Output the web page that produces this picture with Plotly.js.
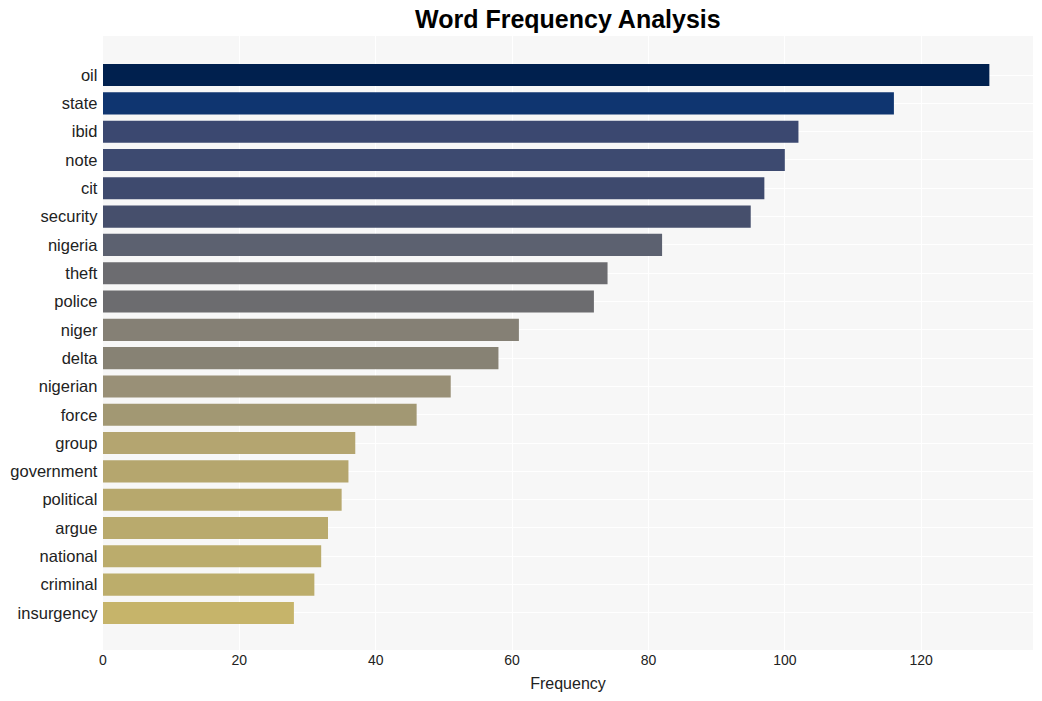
<!DOCTYPE html>
<html><head><meta charset="utf-8">
<script src="https://cdn.plot.ly/plotly-3.0.1.min.js"></script>
<style>html,body{margin:0;padding:0;background:#fff;}</style>
</head><body>
<div id="chart" style="width:1042px;height:701px;"></div>
<script>
const words = ["oil","state","ibid","note","cit","security","nigeria","theft","police","niger","delta","nigerian","force","group","government","political","argue","national","criminal","insurgency"];
const frequencies = [130,116,102,100,97,95,82,74,72,61,58,51,46,37,36,35,33,32,31,28];
const barColors = ["#00204e","#0f3570","#3b4870","#3d4a70","#3e4a6e","#464f6c","#5c6170","#6c6c70","#6c6c6f","#858075","#878274","#999077","#a29873","#b4a570","#b5a66e","#b7a86d","#b9aa6d","#bbac6c","#bcad6b","#c6b46a"];

const trace = {
  type: "bar",
  orientation: "h",
  x: frequencies,
  y: words,
  marker: {color: barColors},
  width: 0.78,
  hoverinfo: "x+y"
};

const layout = {
  width: 1042, height: 701,
  margin: {l: 103, r: 9, t: 36, b: 51},
  paper_bgcolor: "#ffffff",
  plot_bgcolor: "#f7f7f7",
  font: {family: "Liberation Sans, Arial, sans-serif", color: "#222"},
  title: {text: "<b>Word Frequency Analysis</b>", font: {size: 25, color: "#000"}, x: 0.545, xanchor: "center", y: 0.972, yanchor: "middle"},
  xaxis: {
    title: {text: "Frequency", font: {size: 16}, standoff: 10},
    range: [0, 136.4],
    tickvals: [0,20,40,60,80,100,120],
    tickfont: {size: 14},
    showgrid: true, gridcolor: "#ffffff", gridwidth: 1,
    zeroline: false, showline: false, ticks: ""
  },
  yaxis: {
    type: "category",
    categoryorder: "array",
    categoryarray: words,
    range: [20.31, -1.38],
    tickfont: {size: 16.5},
    showgrid: true, gridcolor: "#ffffff", gridwidth: 1,
    zeroline: false, showline: false, ticks: "", ticksuffix: " "
  },
  showlegend: false,
  bargap: 0.2
};

Plotly.newPlot("chart", [trace], layout, {displayModeBar: false, staticPlot: true});
</script>
</body></html>
